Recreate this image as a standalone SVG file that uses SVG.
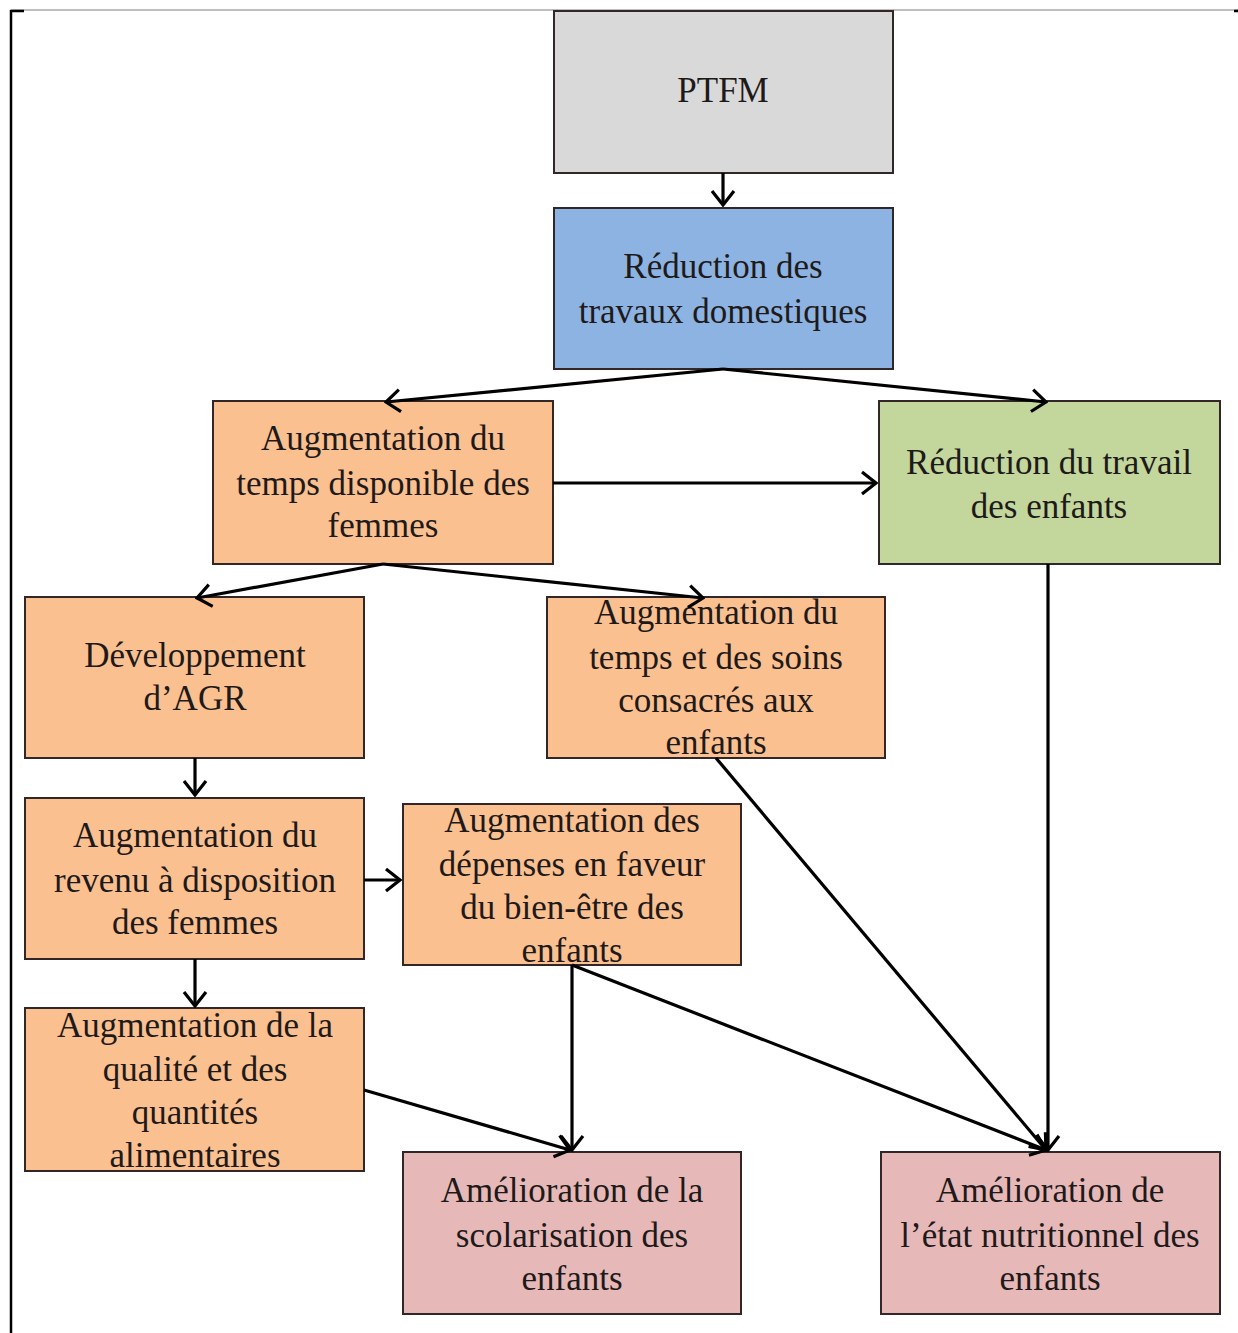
<svg xmlns="http://www.w3.org/2000/svg" width="1238" height="1333" viewBox="0 0 1238 1333">
<defs>
<style>
.box{stroke:#332626;stroke-width:2}
.t{font-family:"Liberation Serif","Times New Roman",serif;font-size:35px;fill:#1e1a1a;text-anchor:middle}
.c{stroke:#000;stroke-width:3.2;fill:none}
</style>
<marker id="ah" viewBox="0 0 18 26" refX="16" refY="13" markerWidth="18" markerHeight="26" markerUnits="userSpaceOnUse" orient="auto">
<path d="M2,2 L16,13 L2,24" fill="none" stroke="#000" stroke-width="3.2"/>
</marker>
</defs>
<rect width="1238" height="1333" fill="#fff"/>
<g id="frame">
<line x1="11" y1="10" x2="1238" y2="10" stroke="#aaa" stroke-width="1.5"/>
<line x1="11" y1="10" x2="11" y2="1333" stroke="#000" stroke-width="2.5"/>
<line x1="10" y1="11" x2="24" y2="11" stroke="#000" stroke-width="2.5"/>
<line x1="1234" y1="11" x2="1238" y2="11" stroke="#000" stroke-width="2.5"/>
</g>
<g id="ptfm">
<rect class="box" x="554" y="11" width="339" height="162" fill="#d9d9d9"/>
<text class="t" x="723" y="102">PTFM</text>
</g>
<g id="reduction-travaux">
<rect class="box" x="554" y="208" width="339" height="161" fill="#8db3e2"/>
<text class="t" x="723" y="278">Réduction des</text>
<text class="t" x="723" y="323">travaux domestiques</text>
</g>
<g id="temps-femmes">
<rect class="box" x="213" y="401" width="340" height="163" fill="#fac090"/>
<text class="t" x="383" y="450">Augmentation du</text>
<text class="t" x="383" y="495">temps disponible des</text>
<text class="t" x="383" y="537">femmes</text>
</g>
<g id="travail-enfants">
<rect class="box" x="879" y="401" width="341" height="163" fill="#c3d69b"/>
<text class="t" x="1049" y="474">Réduction du travail</text>
<text class="t" x="1049" y="518">des enfants</text>
</g>
<g id="agr">
<rect class="box" x="25" y="597" width="339" height="161" fill="#fac090"/>
<text class="t" x="195" y="667">Développement</text>
<text class="t" x="195" y="710">d’AGR</text>
</g>
<g id="soins-enfants">
<rect class="box" x="547" y="597" width="338" height="161" fill="#fac090"/>
<text class="t" x="716" y="624">Augmentation du</text>
<text class="t" x="716" y="669">temps et des soins</text>
<text class="t" x="716" y="712">consacrés aux</text>
<text class="t" x="716" y="754">enfants</text>
</g>
<g id="revenu-femmes">
<rect class="box" x="25" y="798" width="339" height="161" fill="#fac090"/>
<text class="t" x="195" y="847">Augmentation du</text>
<text class="t" x="195" y="892">revenu à disposition</text>
<text class="t" x="195" y="934">des femmes</text>
</g>
<g id="depenses">
<rect class="box" x="403" y="804" width="338" height="161" fill="#fac090"/>
<text class="t" x="572" y="832">Augmentation des</text>
<text class="t" x="572" y="876">dépenses en faveur</text>
<text class="t" x="572" y="919">du bien-être des</text>
<text class="t" x="572" y="962">enfants</text>
</g>
<g id="alimentaires">
<rect class="box" x="25" y="1008" width="339" height="163" fill="#fac090"/>
<text class="t" x="195" y="1037">Augmentation de la</text>
<text class="t" x="195" y="1081">qualité et des</text>
<text class="t" x="195" y="1124">quantités</text>
<text class="t" x="195" y="1167">alimentaires</text>
</g>
<g id="scolarisation">
<rect class="box" x="403" y="1152" width="338" height="162" fill="#e6b9b8"/>
<text class="t" x="572" y="1202">Amélioration de la</text>
<text class="t" x="572" y="1247">scolarisation des</text>
<text class="t" x="572" y="1290">enfants</text>
</g>
<g id="nutrition">
<rect class="box" x="881" y="1152" width="339" height="162" fill="#e6b9b8"/>
<text class="t" x="1050" y="1202">Amélioration de</text>
<text class="t" x="1050" y="1247">l’état nutritionnel des</text>
<text class="t" x="1050" y="1290">enfants</text>
</g>
<g id="connectors">
<line class="c" x1="723" y1="173" x2="723" y2="205" marker-end="url(#ah)"/>
<line class="c" x1="723" y1="369" x2="386" y2="402" marker-end="url(#ah)"/>
<line class="c" x1="723" y1="369" x2="1046" y2="402" marker-end="url(#ah)"/>
<line class="c" x1="553" y1="483" x2="876" y2="483" marker-end="url(#ah)"/>
<line class="c" x1="1048" y1="564" x2="1048" y2="1150" marker-end="url(#ah)"/>
<line class="c" x1="383" y1="564" x2="197" y2="598" marker-end="url(#ah)"/>
<line class="c" x1="383" y1="564" x2="703" y2="598" marker-end="url(#ah)"/>
<line class="c" x1="195" y1="758" x2="195" y2="795" marker-end="url(#ah)"/>
<line class="c" x1="364" y1="880" x2="400" y2="880" marker-end="url(#ah)"/>
<line class="c" x1="195" y1="959" x2="195" y2="1006" marker-end="url(#ah)"/>
<line class="c" x1="716" y1="758" x2="1046" y2="1150" marker-end="url(#ah)"/>
<line class="c" x1="572" y1="965" x2="572" y2="1150" marker-end="url(#ah)"/>
<line class="c" x1="572" y1="965" x2="1046" y2="1150" marker-end="url(#ah)"/>
<line class="c" x1="364" y1="1090" x2="570" y2="1150" marker-end="url(#ah)"/>
</g>
</svg>
